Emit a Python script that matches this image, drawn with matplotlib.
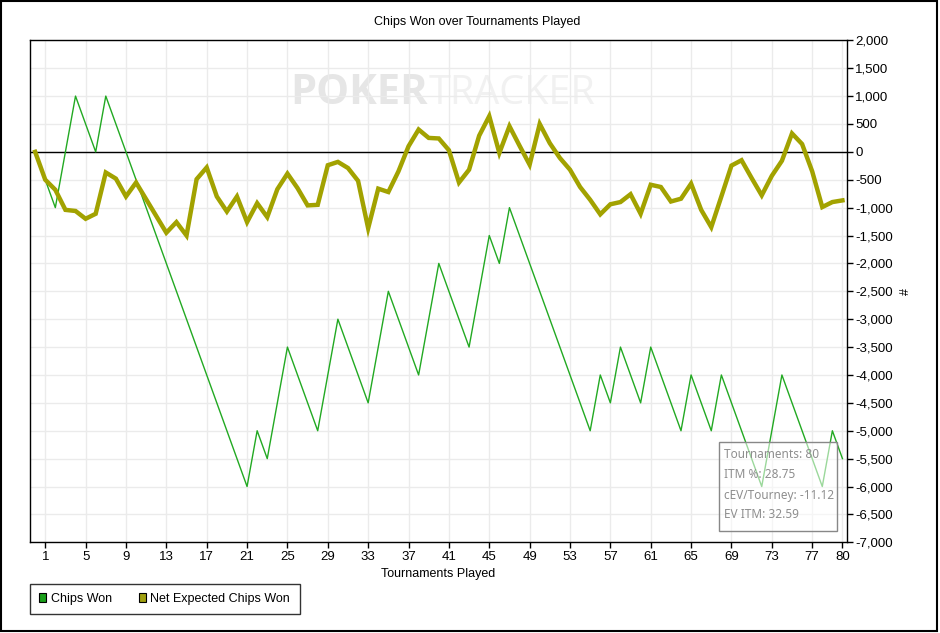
import matplotlib
matplotlib.use("Agg")
import matplotlib.pyplot as plt
from matplotlib.patches import Patch, Rectangle
from matplotlib.ticker import FuncFormatter, FixedLocator, MultipleLocator

# --- data -------------------------------------------------------------------
tournaments = list(range(0, 81))
chips_won = [
    0, -500, -1000, 0, 1000, 500, 0, 1000, 500, 0,
    -500, -1000, -1500, -2000, -2500, -3000, -3500, -4000, -4500, -5000,
    -5500, -6000, -5000, -5500, -4500, -3500, -4000, -4500, -5000, -4000,
    -3000, -3500, -4000, -4500, -3500, -2500, -3000, -3500, -4000, -3000,
    -2000, -2500, -3000, -3500, -2500, -1500, -2000, -1000, -1500, -2000,
    -2500, -3000, -3500, -4000, -4500, -5000, -4000, -4500, -3500, -4000,
    -4500, -3500, -4000, -4500, -5000, -4000, -4500, -5000, -4000, -4500,
    -5000, -5500, -6000, -5000, -4000, -4500, -5000, -5500, -6000, -5000,
    -5500,
]
net_ev_chips = [
    0, -500, -680, -1040, -1060, -1200, -1110, -370, -480, -800,
    -550, -850, -1150, -1450, -1260, -1500, -490, -280, -800, -1070,
    -800, -1260, -920, -1170, -670, -390, -650, -960, -950, -240,
    -180, -290, -520, -1370, -660, -720, -350, 100, 400, 250,
    240, 30, -550, -320, 290, 640, -20, 460, 110, -230,
    500, 155, -110, -320, -630, -860, -1120, -940, -900, -760,
    -1110, -590, -630, -890, -840, -570, -1040, -1350, -800, -246,
    -150, -470, -780, -430, -160, 330, 140, -350, -990, -900,
    -870,
]
x_ticks = [1, 5, 9, 13, 17, 21, 25, 29, 33, 37, 41, 45, 49, 53, 57, 61, 65,
           69, 73, 77, 80]
stats_lines = ["Tournaments: 80", "ITM %: 28.75", "cEV/Tourney: -11.12",
               "EV ITM: 32.59"]

W, H = 940, 633
GREEN = "#22a922"
OLIVE = "#a2a200"
FONT = "Liberation Sans"

plt.rcParams["font.family"] = [FONT, "DejaVu Sans"]


def fx(px):
    return px / W


def fy(py):
    return 1 - py / H


fig = plt.figure(figsize=(W / 100, H / 100), dpi=100)
fig.set_facecolor("white")
ax = fig.add_axes([fx(30.3), fy(542.3), fx(846.7 - 30.3), (542.3 - 40.3) / H])

# watermark
ax.text(0.3185, 0.873, "POKER", transform=ax.transAxes, fontsize=30,
        fontweight="bold", color="#e6e6e6", family="Open Sans",
        ha="left", va="baseline", zorder=0)
ax.text(0.4875, 0.873, "TRACKER", transform=ax.transAxes, fontsize=28.5,
        color="#f1f1f1", family="Open Sans", ha="left", va="baseline",
        zorder=0)

ax.plot(tournaments, chips_won, color=GREEN, lw=1.0, zorder=3)
ax.plot(tournaments, net_ev_chips, color=OLIVE, lw=3.2, zorder=4,
        solid_joinstyle="miter")
ax.axhline(0, color="black", lw=1.0, zorder=2)

ax.set_xlim(-0.48, 80.42)
ax.set_ylim(-7000, 2000)
ax.xaxis.set_major_locator(FixedLocator(x_ticks))
ax.yaxis.set_major_locator(MultipleLocator(500))
ax.yaxis.set_major_formatter(FuncFormatter(lambda v, p: f"{int(v):,}"))
ax.yaxis.tick_right()
ax.yaxis.set_label_position("right")
ax.tick_params(direction="out", length=4, width=1, colors="black",
               labelsize=9.5, pad=2)
ax.grid(True, color="#ebebeb", lw=1.0, zorder=0)
ax.set_axisbelow(True)
for sp in ax.spines.values():
    sp.set_color("black")
    sp.set_linewidth(1.0)

ax.set_xlabel("Tournaments Played", fontsize=9, labelpad=4)
ax.set_ylabel("#", fontsize=9, rotation=90, labelpad=5)
fig.text(fx(477), fy(22), "Chips Won over Tournaments Played", fontsize=9,
         ha="center", va="center")

# stats box
fig.add_artist(Rectangle((fx(719.3), fy(531)), fx(836.7 - 719.3),
                         (531 - 442.3) / H, transform=fig.transFigure,
                         facecolor=(1, 1, 1, 0.55), edgecolor="#888888",
                         lw=1.0, zorder=5))
for i, line in enumerate(stats_lines):
    fig.text(fx(723.5), fy(455 + 20 * i), line, fontsize=8.5,
             family="Noto Sans", color="#8e8e8e", ha="left", va="center",
             zorder=6)

# legend
handles = [Patch(facecolor="#1a9f1a", edgecolor="black", lw=0.8,
                 label="Chips Won"),
           Patch(facecolor="#a0a010", edgecolor="black", lw=0.8,
                 label="Net Expected Chips Won")]
leg = fig.legend(handles=handles, loc="lower left",
                 bbox_to_anchor=(fx(30), fy(614.3)), ncol=2, fontsize=9,
                 frameon=True, fancybox=False, shadow=False, borderpad=0.75,
                 borderaxespad=0, handlelength=0.55, handleheight=0.65,
                 handletextpad=0.35, columnspacing=2.2)
leg.get_frame().set_edgecolor("black")
leg.get_frame().set_linewidth(1.0)

# outer border
fig.add_artist(Rectangle((0.0008, 0.0025), 0.9965, 0.9955,
                         transform=fig.transFigure, fill=False,
                         edgecolor="black", lw=1.5, zorder=10))

fig.savefig("out.png", dpi=100, facecolor=fig.get_facecolor())
